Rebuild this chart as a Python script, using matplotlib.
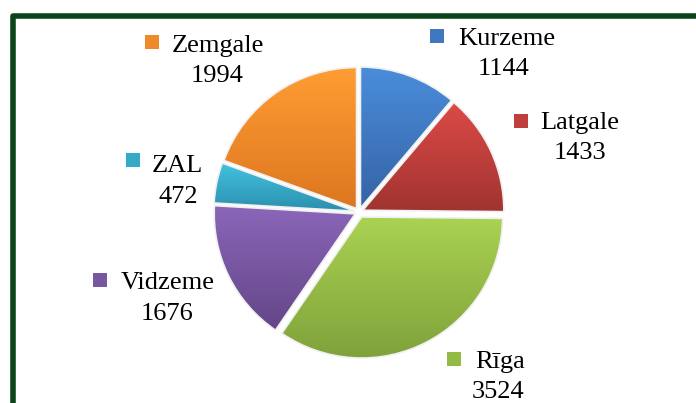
import numpy as np
import matplotlib
matplotlib.use("Agg")
import matplotlib.pyplot as plt
from matplotlib.patches import Rectangle
from matplotlib.lines import Line2D
import matplotlib.colors as mcolors

regions = ["Kurzeme", "Latgale", "Rīga", "Vidzeme", "ZAL", "Zemgale"]
values = [1144, 1433, 3524, 1676, 472, 1994]
top_colors = ["#4a8ddb", "#dc4a47", "#aad252", "#8b66ba", "#43c3e2", "#ff9d33"]
bot_colors = ["#3563a5", "#a03330", "#7fa23b", "#644687", "#2b8fae", "#dc7620"]

W, H = 696, 403
fig = plt.figure(figsize=(W / 100, H / 100), dpi=100)

cx, cy, r = 359, 212, 141
lim = 1.12
side = 2 * lim * r
ax = fig.add_axes([(cx - side / 2) / W, (H - cy - side / 2) / H, side / W, side / H])
ax.set_xlim(-lim, lim)
ax.set_ylim(-lim, lim)
ax.set_aspect("equal")
ax.axis("off")

wedges, _ = ax.pie(values, startangle=90, counterclock=False,
                   explode=[0.03, 0.03, 0.04, 0.03, 0.03, 0.03], radius=1.0,
                   wedgeprops=dict(facecolor="none", edgecolor="#f0f0f0", linewidth=1.2))
for w, tc, bc in zip(wedges, top_colors, bot_colors):
    w.set_zorder(3)
    bb = w.get_path().get_extents(w.get_patch_transform())
    cmap = mcolors.LinearSegmentedColormap.from_list("g", [bc, tc])
    grad = np.linspace(0, 1, 256).reshape(-1, 1)
    im = ax.imshow(grad, cmap=cmap, origin="lower", aspect="auto",
                   extent=[bb.x0, bb.x1, bb.y0, bb.y1], zorder=2)
    im.set_clip_path(w)
ax.set_xlim(-lim, lim)
ax.set_ylim(-lim, lim)

# labels: (marker x, marker y, name left x, name baseline y, value center x, value baseline y)
label_pos = {
    "Kurzeme": (437, 36, 458, 45, 504, 75),
    "Latgale": (521, 121, 540, 129, 580, 159),
    "Rīga": (454, 359, 475, 368, 498, 398),
    "Vidzeme": (100, 280, 121, 289, 167, 320),
    "ZAL": (133, 160, 152, 172, 178, 203),
    "Zemgale": (152, 42, 172, 52, 217, 82),
}
sq = 14
for name, val, tc, bc in zip(regions, values, top_colors, bot_colors):
    mx, my, nx, ny, vx, vy = label_pos[name]
    fig.patches.append(Rectangle(((mx - sq / 2) / W, (H - my - sq / 2) / H), sq / W, sq / H,
                                 transform=fig.transFigure, facecolor=mcolors.to_hex(
                                     np.mean([mcolors.to_rgb(tc), mcolors.to_rgb(bc)], axis=0)),
                                 edgecolor="none"))
    fig.text(nx / W, (H - ny) / H, name, ha="left", va="baseline",
             fontsize=19, family="Liberation Serif", color="black")
    fig.text(vx / W, (H - vy) / H, str(val), ha="center", va="baseline",
             fontsize=19, family="Liberation Serif", color="black")

# frame
fig.lines.append(Line2D([13 / W, 13 / W, 1.0], [0.0, (H - 16) / H, (H - 16) / H],
                        transform=fig.transFigure, color="#0b4419", linewidth=4.0,
                        solid_joinstyle="round"))

fig.savefig("out.png", dpi=100)
